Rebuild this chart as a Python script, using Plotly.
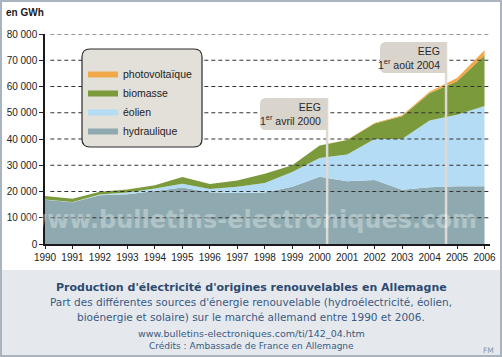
import plotly.graph_objects as go

years = list(range(1990, 2007))
hydraulique = [16900, 15900, 18600, 19000, 20200, 21500, 19700, 19400, 19600, 21800,
               25600, 23900, 24400, 20700, 21600, 22000, 22000]
eolien = [50, 100, 300, 600, 900, 1500, 1300, 2400, 3600, 5600,
          7200, 10200, 15600, 19300, 25400, 27200, 30600]
biomasse = [1350, 1200, 1000, 1200, 1300, 2500, 1900, 2400, 3600, 2600,
            4700, 5500, 5900, 8700, 10400, 12800, 19200]
photovoltaique = [0, 0, 0, 0, 0, 0, 0, 0, 0, 0,
                  60, 110, 190, 310, 560, 1280, 2000]

series_names = ["hydraulique", "éolien", "biomasse", "photovoltaïque"]
series_values = [hydraulique, eolien, biomasse, photovoltaique]
series_colors = ["#8eaab0", "#b5dcf5", "#7b9a3c", "#f0a848"]

y_tickvals = [0, 10000, 20000, 30000, 40000, 50000, 60000, 70000, 80000]
y_ticktext = ["0", "10 000", "20 000", "30 000", "40 000", "50 000", "60 000", "70 000", "80 000"]

eeg_dates = [2000.27, 2004.6]
eeg_labels = ["EEG<br>1<sup>er</sup> avril 2000", "EEG<br>1<sup>er</sup> août 2004"]

NARROW = "Liberation Sans, Arial, sans-serif"
VERD = "DejaVu Sans, Verdana, sans-serif"

# geometry (pixels) of the plot area
W, H = 502, 357
L, R, T, B = 45, 12, 34, 113
PW = W - L - R
PH = H - T - B
XMIN, XMAX = 1990, 2006.2
YMIN, YMAX = 0, 80000


def px2paperx(p):
    return (p - L) / PW


def px2papery(q):
    return (H - B - q) / PH


def px2datax(p):
    return XMIN + (p - L) / PW * (XMAX - XMIN)


def px2datay(q):
    return YMIN + (H - B - q) / PH * (YMAX - YMIN)


fig = go.Figure()
for name, vals, col in zip(series_names, series_values, series_colors):
    fig.add_trace(go.Scatter(
        x=years, y=vals, name=name, stackgroup="one", mode="lines",
        line=dict(width=0, color=col), fillcolor=col, hoverinfo="skip",
    ))

shapes = []
# caption panel and white chart panel
shapes.append(dict(type="rect", xref="paper", yref="paper", layer="below",
                   x0=px2paperx(0), x1=px2paperx(W), y0=px2papery(H), y1=px2papery(0),
                   fillcolor="#e5e9ee", line=dict(width=0)))
shapes.append(dict(type="rect", xref="paper", yref="paper", layer="below",
                   x0=px2paperx(2), x1=px2paperx(W - 2), y0=px2papery(270), y1=px2papery(2),
                   fillcolor="#ffffff", line=dict(width=0)))
# outer border
shapes.append(dict(type="rect", xref="paper", yref="paper", layer="above",
                   x0=px2paperx(1), x1=px2paperx(W - 1), y0=px2papery(H - 1), y1=px2papery(1),
                   fillcolor="rgba(0,0,0,0)", line=dict(width=2, color="#a9b4bf")))

# dashed gridlines above the areas
for v in y_tickvals[1:]:
    shapes.append(dict(type="line", xref="paper", yref="y", layer="above",
                       x0=0.012, x1=1.0, y0=v, y1=v,
                       line=dict(color="#333333", width=1, dash="4px,3px")))


def rounded_path(x0, x1, y0, y1, rx, ry, left_only=False):
    if left_only:
        return (f"M {x0+rx},{y0} L {x1},{y0} L {x1},{y1} L {x0+rx},{y1} "
                f"Q {x0},{y1} {x0},{y1-ry} L {x0},{y0+ry} Q {x0},{y0} {x0+rx},{y0} Z")
    return (f"M {x0+rx},{y0} L {x1-rx},{y0} Q {x1},{y0} {x1},{y0+ry} L {x1},{y1-ry} "
            f"Q {x1},{y1} {x1-rx},{y1} L {x0+rx},{y1} Q {x0},{y1} {x0},{y1-ry} "
            f"L {x0},{y0+ry} Q {x0},{y0} {x0+rx},{y0} Z")


# legend box (rounded)
lx0, lx1 = px2paperx(82), px2paperx(202)
ly0, ly1 = px2papery(147), px2papery(49)
shapes.append(dict(type="path", xref="paper", yref="paper", layer="above",
                   path=rounded_path(lx0, lx1, ly0, ly1, 8 / PW, 8 / PH),
                   fillcolor="#e3e0d9", line=dict(color="#2b2b2b", width=1.2)))

# EEG callouts
eeg_boxes_px = [(260, 98, 130), (380, 42, 73)]
annotations = []
for d, lab, (bx0, by0, by1) in zip(eeg_dates, eeg_labels, eeg_boxes_px):
    ytop = px2datay(by0)
    ybot = px2datay(by1)
    xl = px2datax(bx0)
    shapes.append(dict(type="line", xref="x", yref="y", layer="above",
                       x0=d, x1=d, y0=0, y1=ytop,
                       line=dict(color="#dedad3", width=2.5)))
    shapes.append(dict(type="path", xref="x", yref="y", layer="above",
                       path=rounded_path(xl, d, ybot, ytop,
                                         6 / PW * (XMAX - XMIN), 6 / PH * (YMAX - YMIN),
                                         left_only=True),
                       fillcolor="#d9d4cc", line=dict(width=0)))
    annotations.append(dict(x=d, y=(ytop + ybot) / 2, xref="x", yref="y",
                            xanchor="right", yanchor="middle", xshift=-4, align="right",
                            text=lab, showarrow=False,
                            font=dict(family=NARROW, size=10.5, color="#2a2a2a")))

# watermark
annotations.append(dict(x=px2paperx(23), y=px2papery(220), xref="paper", yref="paper",
                        xanchor="left", yanchor="middle", showarrow=False,
                        text="<b>www.bulletins-electroniques.com</b>",
                        font=dict(family="DejaVu Sans", size=24, color="rgba(255,255,255,0.33)")))

# "en GWh"
annotations.append(dict(x=px2paperx(4), y=px2papery(13), xref="paper", yref="paper",
                        xanchor="left", yanchor="middle", showarrow=False,
                        text="<b>en GWh</b>",
                        font=dict(family=NARROW, size=10, color="#1a1a1a")))

# caption
cx = px2paperx(251)
caption = [
    ("<b>Production d'électricité d'origines renouvelables en Allemagne</b>", 287, 11, "#2d4a70"),
    ("Part des différentes sources d'énergie renouvelable (hydroélectricité, éolien,", 302, 10.5, "#3a5a82"),
    ("bioénergie et solaire) sur le marché allemand entre 1990 et 2006.", 317, 10.5, "#3a5a82"),
    ("www.bulletins-electroniques.com/ti/142_04.htm", 333, 9.5, "#3a5a82"),
    ("Crédits : Ambassade de France en Allemagne", 346, 9, "#3a5a82"),
]
for txt, py, sz, col in caption:
    annotations.append(dict(x=cx, y=px2papery(py), xref="paper", yref="paper",
                            xanchor="center", yanchor="middle", showarrow=False,
                            text=txt, font=dict(family=VERD, size=sz, color=col)))
annotations.append(dict(x=px2paperx(488), y=px2papery(350), xref="paper", yref="paper",
                        xanchor="center", yanchor="middle", showarrow=False,
                        text="FM", font=dict(family=VERD, size=7.5, color="#8a96a4")))

fig.update_layout(
    width=W, height=H, autosize=False,
    margin=dict(l=L, r=R, t=T, b=B, pad=0, autoexpand=False),
    paper_bgcolor="#ffffff", plot_bgcolor="rgba(0,0,0,0)",
    shapes=shapes, annotations=annotations,
    showlegend=True,
    legend=dict(x=px2paperx(83), y=px2papery(59), xanchor="left", yanchor="top",
                bgcolor="rgba(0,0,0,0)", borderwidth=0, traceorder="reversed",
                font=dict(family=NARROW, size=10.5, color="#222222"),
                tracegroupgap=0, itemwidth=30,
                itemclick=False, itemdoubleclick=False),
    xaxis=dict(range=[XMIN, XMAX], tickvals=years, ticktext=[str(y) for y in years],
               tickangle=0, automargin=False,
               ticks="outside", ticklen=3, tickcolor="#222", tickwidth=1,
               showline=True, linecolor="#1a1a1a", linewidth=2, showgrid=False,
               zeroline=False, layer="above traces",
               tickfont=dict(family=NARROW, size=10, color="#222")),
    yaxis=dict(range=[YMIN, YMAX], tickvals=y_tickvals, ticktext=y_ticktext,
               automargin=False,
               ticks="outside", ticklen=4, tickcolor="#222", tickwidth=1,
               showline=True, linecolor="#1a1a1a", linewidth=1.5, showgrid=False,
               zeroline=False, layer="above traces",
               tickfont=dict(family=NARROW, size=10, color="#222")),
)

fig.write_html("out.html", config={"displayModeBar": False},
               post_script="document.body.style.margin='0px';document.body.style.overflow='hidden';")
